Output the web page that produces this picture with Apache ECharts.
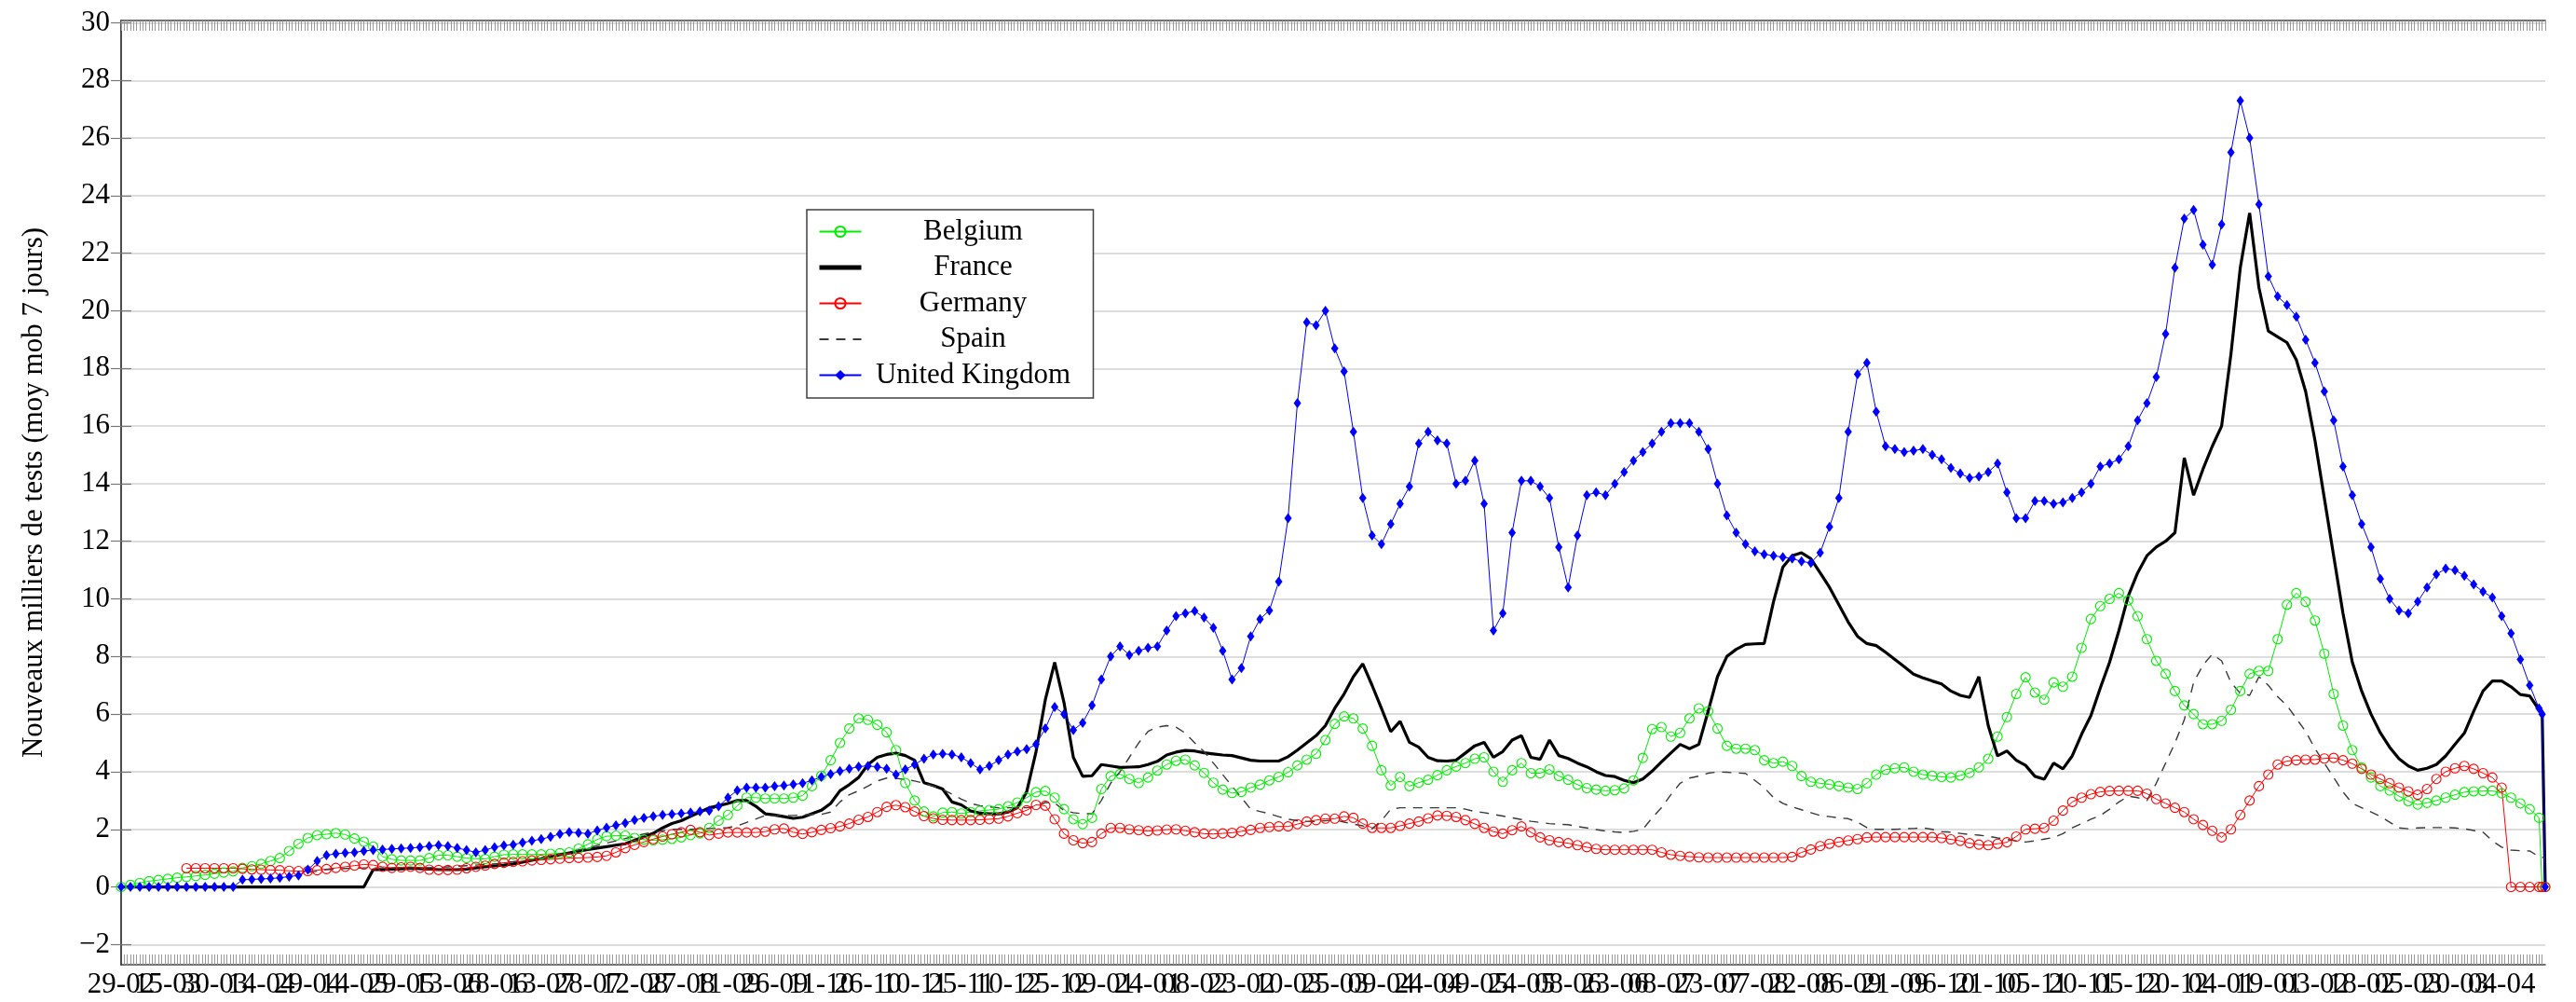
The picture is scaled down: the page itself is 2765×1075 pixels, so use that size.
<!DOCTYPE html>
<html>
<head>
<meta charset="utf-8">
<title>Nouveaux milliers de tests</title>
<script src="https://cdn.jsdelivr.net/npm/echarts@6/dist/echarts.min.js"></script>
<style>
  html, body { margin: 0; padding: 0; background: #fff; }
  #chart { width: 2765px; height: 1075px; }
</style>
</head>
<body>
<div id="chart"></div>
<script>
// tick labels, one every 15 days starting on 29-02-2020
const dateLabels = ['29-02','15-03','30-03','14-04','29-04','14-05','29-05','13-06','28-06','13-07','28-07','12-08',
  '27-08','11-09','26-09','11-10','26-10','10-11','25-11','10-12','25-12','09-01','24-01','08-02','23-02','10-03',
  '25-03','09-04','24-04','09-05','24-05','08-06','23-06','08-07','23-07','07-08','22-08','06-09','21-09','06-10',
  '21-10','05-11','20-11','05-12','20-12','04-01','19-01','03-02','18-02','05-03','20-03','04-04']
const yTicks = [-2, 0, 2, 4, 6, 8, 10, 12, 14, 16, 18, 20, 22, 24, 26, 28, 30]
const lastDay = 779

// day index of every sample (every 3rd day, plus the last two days)
const days = []
for (let d = 0; d <= 777; d += 3) days.push(d)
days.push(778, 779)

const belgium = [
  0,0.07,0.14,0.2,0.24, 0.28,0.32,0.35,0.38,0.42, 0.46,0.5,0.54,0.66,0.72, 0.8,0.9,1.0,1.25,1.5,
  1.7,1.8,1.83,1.87,1.82, 1.68,1.57,1.4,1.05,0.96, 0.92,0.92,0.92,1.0,1.1, 1.1,1.05,1.0,0.98,0.97,
  1.05,1.12,1.13,1.13,1.13, 1.13,1.15,1.17,1.2,1.33, 1.48,1.65,1.76,1.78,1.78, 1.7,1.64,1.62,1.64,1.67,
  1.72,1.8,1.86,2.05,2.3, 2.5,2.82,3.1,3.1,3.07, 3.07,3.07,3.1,3.17,3.5, 3.86,4.4,5.0,5.5,5.85,
  5.8,5.63,5.37,4.75,3.61, 3.0,2.62,2.45,2.58,2.6, 2.55,2.6,2.64,2.67,2.7, 2.8,2.93,3.1,3.29,3.33,
  3.1,2.7,2.35,2.18,2.4, 3.4,3.85,3.92,3.75,3.61, 3.8,4.04,4.25,4.38,4.42, 4.22,3.96,3.62,3.38,3.26,
  3.3,3.45,3.55,3.7,3.82, 3.98,4.22,4.42,4.62,5.1, 5.66,5.92,5.85,5.5,4.9, 4.05,3.52,3.82,3.5,3.62,
  3.72,3.88,4.05,4.18,4.3, 4.45,4.5,4.0,3.65,4.05, 4.3,3.95,3.95,4.08,3.85, 3.72,3.55,3.43,3.38,3.34,
  3.36,3.42,3.7,4.48,5.48, 5.55,5.22,5.35,5.85,6.2, 6.1,5.5,4.9,4.8,4.8, 4.75,4.4,4.3,4.35,4.2,
  3.85,3.65,3.6,3.56,3.5, 3.45,3.4,3.6,3.9,4.07, 4.12,4.15,4.0,3.9,3.86, 3.82,3.8,3.87,3.96,4.15,
  4.45,5.22,5.9,6.7,7.28, 6.75,6.5,7.1,6.95,7.3, 8.3,9.3,9.75,10.0,10.2, 9.95,9.4,8.6,7.85,7.4,
  6.8,6.3,6.0,5.65,5.65, 5.77,6.15,6.8,7.4,7.5, 7.5,8.6,9.8,10.2,9.9, 9.25,8.1,6.7,5.6,4.75,
  4.15,3.8,3.5,3.35,3.15, 2.98,2.86,2.92,3.0,3.1, 3.2,3.29,3.32,3.33,3.34, 3.25,3.1,2.9,2.7,2.4,
  0, 0
]

const france = [
  0,0,0,0,0, 0,0,0,0,0, 0,0,0,0,0, 0,0,0,0,0,
  0,0,0,0,0, 0,0,0.6,0.6,0.62, 0.63,0.65,0.64,0.62,0.6, 0.6,0.6,0.62,0.66,0.7,
  0.73,0.76,0.8,0.86,0.93, 0.98,1.05,1.12,1.18,1.24, 1.3,1.35,1.4,1.45,1.5, 1.62,1.74,1.86,2.05,2.2,
  2.3,2.45,2.6,2.75,2.82, 2.9,3.0,3.0,2.8,2.54, 2.5,2.44,2.38,2.42,2.54, 2.66,2.9,3.34,3.55,3.8,
  4.25,4.5,4.6,4.64,4.56, 4.4,3.62,3.52,3.4,2.95, 2.85,2.64,2.56,2.54,2.54, 2.6,2.75,3.3,4.69,6.5,
  7.8,6.4,4.5,3.84,3.86, 4.25,4.2,4.15,4.16,4.17, 4.25,4.36,4.58,4.68,4.74, 4.72,4.66,4.62,4.58,4.56,
  4.48,4.4,4.37,4.37,4.37, 4.52,4.75,5.0,5.25,5.6, 6.2,6.7,7.3,7.75,7.0, 6.2,5.39,5.75,5.02,4.85,
  4.5,4.38,4.37,4.4,4.65, 4.9,5.02,4.5,4.7,5.1, 5.25,4.5,4.43,5.1,4.56, 4.46,4.3,4.17,4.0,3.87,
  3.83,3.7,3.62,3.75,4.02, 4.34,4.65,4.95,4.8,4.95, 6.1,7.3,8.0,8.25,8.42, 8.44,8.45,9.9,11.1,11.5,
  11.6,11.4,10.9,10.4,9.8, 9.2,8.7,8.45,8.38,8.15, 7.9,7.65,7.39,7.26,7.15, 7.05,6.8,6.65,6.58,7.3,
  5.6,4.55,4.72,4.4,4.22, 3.84,3.74,4.3,4.1,4.55, 5.3,5.95,6.9,7.8,8.9, 10.1,10.9,11.5,11.8,12.0,
  12.3,14.9,13.6,14.5,15.3, 16.0,18.5,21.5,23.4,20.8, 19.3,19.1,18.9,18.3,17.2, 15.5,13.5,11.5,9.5,7.8,
  6.8,6.0,5.35,4.85,4.45, 4.2,4.05,4.12,4.25,4.55, 4.95,5.34,6.1,6.8,7.15, 7.15,6.95,6.68,6.63,6.15,
  6.1, 0
]

const germany = [
  null,null,null,null,null, null,null,0.65,0.65,0.65, 0.65,0.65,0.65,0.63,0.61, 0.6,0.59,0.58,0.56,0.55,
  0.55,0.58,0.62,0.66,0.7, 0.74,0.78,0.76,0.7,0.66, 0.68,0.7,0.66,0.6,0.59, 0.59,0.6,0.65,0.7,0.74,
  0.8,0.84,0.87,0.89,0.92, 0.94,0.96,0.98,1.0,1.01, 1.02,1.04,1.08,1.2,1.35, 1.46,1.56,1.66,1.75,1.83,
  1.9,1.98,1.9,1.8,1.85, 1.89,1.89,1.89,1.89,1.92, 2.0,2.03,1.9,1.84,1.9, 1.98,2.04,2.1,2.2,2.33,
  2.43,2.6,2.78,2.84,2.77, 2.62,2.46,2.38,2.33,2.32, 2.32,2.32,2.33,2.35,2.37, 2.45,2.56,2.66,2.85,2.82,
  2.35,1.85,1.62,1.52,1.56, 1.85,2.05,2.05,2.0,1.97, 1.94,1.96,1.99,2.0,1.95, 1.9,1.85,1.84,1.86,1.88,
  1.93,1.98,2.05,2.08,2.1, 2.1,2.18,2.27,2.32,2.37, 2.37,2.45,2.4,2.2,2.05, 2.05,2.05,2.12,2.2,2.27,
  2.38,2.48,2.47,2.43,2.32, 2.19,2.05,1.92,1.85,1.97, 2.1,1.9,1.72,1.62,1.56, 1.52,1.45,1.38,1.32,1.29,
  1.29,1.29,1.29,1.29,1.29, 1.2,1.12,1.08,1.05,1.03, 1.02,1.02,1.02,1.02,1.02, 1.02,1.02,1.02,1.02,1.04,
  1.2,1.3,1.42,1.5,1.56, 1.61,1.66,1.72,1.73,1.73, 1.73,1.73,1.73,1.73,1.73, 1.7,1.65,1.6,1.52,1.47,
  1.45,1.5,1.55,1.75,2.0, 2.02,2.05,2.3,2.65,2.95, 3.1,3.22,3.3,3.33,3.34, 3.34,3.34,3.24,3.05,2.9,
  2.75,2.6,2.35,2.15,1.95, 1.72,2.0,2.5,3.0,3.5, 3.9,4.25,4.37,4.4,4.42, 4.42,4.46,4.48,4.4,4.28,
  4.1,3.9,3.75,3.6,3.45, 3.32,3.2,3.4,3.75,4.0, 4.12,4.2,4.1,3.95,3.8, 3.45,0,0,0,0,
  0, 0
]

const spain = [
  null,null,null,null,null, null,null,null,null,null, null,null,null,null,null, null,null,null,null,null,
  0.5,0.55,0.6,0.62,0.64, 0.65,0.66,0.66,0.66,0.66, 0.66,0.66,0.66,0.67,0.68, 0.7,0.72,0.74,0.76,0.78,
  0.8,0.84,0.88,0.92,0.96, 1.0,1.06,1.12,1.2,1.28, 1.36,1.44,1.52,1.6,1.68, 1.76,1.84,1.9,1.95,2.0,
  2.0,2.0,2.02,2.03,2.04, 2.06,2.12,2.24,2.36,2.48, 2.48,2.48,2.48,2.5,2.52, 2.52,2.6,2.95,3.2,3.34,
  3.5,3.68,3.78,3.77,3.73, 3.68,3.6,3.5,3.38,3.22, 3.05,2.9,2.82,2.78,2.75, 2.75,2.75,2.75,2.8,2.93,
  2.92,2.65,2.58,2.54,2.54, 3.0,3.6,4.0,4.5,5.0, 5.4,5.55,5.6,5.55,5.34, 5.0,4.7,4.3,3.9,3.5,
  3.1,2.7,2.62,2.54,2.44, 2.35,2.3,2.28,2.27,2.3, 2.33,2.25,2.18,2.12,2.02, 2.3,2.7,2.75,2.75,2.75,
  2.75,2.75,2.75,2.75,2.7, 2.62,2.58,2.52,2.46,2.4, 2.34,2.28,2.24,2.2,2.18, 2.16,2.1,2.05,1.99,1.94,
  1.91,1.89,1.93,2.0,2.4, 2.75,3.2,3.6,3.78,3.85, 3.95,3.99,3.98,3.96,3.94, 3.7,3.45,3.1,2.9,2.78,
  2.68,2.58,2.48,2.44,2.4, 2.37,2.25,2.06,2.0,2.0, 2.0,2.02,2.03,2.05,2.0, 1.92,1.9,1.86,1.82,1.8,
  1.76,1.7,1.65,1.6,1.56, 1.6,1.66,1.72,1.85,2.05, 2.2,2.35,2.48,2.7,2.95, 3.15,3.1,3.0,3.6,4.3,
  5.0,5.8,7.1,7.7,8.08, 7.85,7.1,6.72,6.65,7.3, 7.0,6.6,6.3,5.85,5.4, 4.8,4.3,3.8,3.3,2.9,
  2.75,2.6,2.45,2.25,2.05, 2.02,2.05,2.06,2.06,2.06, 2.05,2.02,1.96,1.9,1.6, 1.38,1.28,1.26,1.25,1.05,
  1.03, 1.0
]

const uk = [
  0,0,0,0,0, 0,0,0,0,0, 0,0,0,0.25,0.26, 0.28,0.29,0.32,0.36,0.4,
  0.6,0.9,1.1,1.15,1.18, 1.2,1.25,1.28,1.3,1.32, 1.34,1.35,1.38,1.42,1.45, 1.42,1.35,1.28,1.2,1.28,
  1.38,1.44,1.47,1.54,1.6, 1.66,1.74,1.84,1.9,1.88, 1.85,1.96,2.06,2.14,2.22, 2.32,2.4,2.45,2.5,2.53,
  2.55,2.58,2.62,2.65,2.8, 3.1,3.35,3.45,3.45,3.45, 3.5,3.52,3.56,3.6,3.7, 3.82,3.92,4.02,4.1,4.18,
  4.2,4.17,4.1,3.9,4.08, 4.25,4.45,4.6,4.62,4.6, 4.5,4.3,4.08,4.2,4.4, 4.6,4.7,4.78,4.95,5.5,
  6.25,6.0,5.45,5.7,6.3, 7.2,8.0,8.35,8.05,8.2, 8.3,8.35,8.9,9.4,9.5, 9.58,9.35,9.0,8.2,7.2,
  7.6,8.7,9.3,9.6,10.6, 12.8,16.8,19.6,19.5,20.0, 18.7,17.9,15.8,13.5,12.2, 11.9,12.6,13.3,13.9,15.4,
  15.8,15.5,15.4,14.0,14.1, 14.8,13.3,8.9,9.5,12.3, 14.1,14.1,13.9,13.5,11.8, 10.4,12.2,13.6,13.7,13.6,
  14.0,14.4,14.8,15.1,15.4, 15.8,16.1,16.1,16.1,15.8, 15.2,14.0,12.9,12.3,11.9, 11.65,11.55,11.5,11.45,11.4,
  11.3,11.25,11.6,12.5,13.5, 15.8,17.8,18.2,16.5,15.3, 15.2,15.1,15.15,15.2,15.0, 14.85,14.55,14.35,14.2,14.25,
  14.4,14.7,13.7,12.8,12.8, 13.4,13.4,13.3,13.35,13.5, 13.7,14.0,14.6,14.7,14.85, 15.3,16.2,16.8,17.7,19.2,
  21.5,23.2,23.5,22.3,21.6, 23.0,25.5,27.3,26.0,23.7, 21.2,20.5,20.2,19.8,19.0, 18.2,17.2,16.2,14.6,13.6,
  12.6,11.8,10.7,10.0,9.6, 9.5,9.9,10.4,10.85,11.05, 11.0,10.8,10.5,10.25,10.05, 9.4,8.8,7.9,7.0,6.2,
  6.0, 0
]

const chart = echarts.init(document.getElementById('chart'))

const font = '"Liberation Serif", "DejaVu Serif", serif'
const frameColor = '#404040'
const allDays = []
for (let d = 0; d <= lastDay; d++) allDays.push(d)
// blank guard labels at both ends of the axis, so the real first and last dates stay visible
const labelDays = [0].concat(dateLabels.map((_, k) => (k === 0 ? 0.001 : k * 15)), [lastDay])

const pairs = (values) => days.map((d, i) => [d, values[i]])

const frameAxis = {
  axisLine: { show: true, onZero: false, lineStyle: { color: frameColor, width: 1.5 } },
  splitLine: { show: false }
}

const option = {
  animation: false,
  backgroundColor: '#fff',
  textStyle: { fontFamily: font },
  grid: { left: 130, right: 33, top: 22, bottom: 40 },
  xAxis: [
    {
      type: 'value', min: 0, max: lastDay, position: 'bottom',
      ...frameAxis,
      axisTick: { inside: true, length: 11, customValues: allDays, lineStyle: { color: '#9a9a9a', width: 1 } },
      axisLabel: {
        customValues: labelDays,
        showMinLabel: false, showMaxLabel: false,
        formatter: (v) => (v === 0 || v === lastDay ? ' ' : dateLabels[Math.round(v / 15)]),
        fontSize: 31, fontFamily: font, color: '#000', margin: 6
      }
    },
    {
      type: 'value', min: 0, max: lastDay, position: 'top',
      ...frameAxis,
      axisTick: { inside: true, length: 11, customValues: allDays, lineStyle: { color: '#9a9a9a', width: 1 } },
      axisLabel: { show: false }
    }
  ],
  yAxis: [
    {
      type: 'value', min: -2.7, max: 30.08, position: 'left',
      name: 'Nouveaux milliers de tests (moy mob 7 jours)',
      nameLocation: 'middle', nameGap: 78,
      nameTextStyle: { fontSize: 31, fontFamily: font, color: '#000' },
      axisLine: { show: true, lineStyle: { color: frameColor, width: 1.5 } },
      axisTick: { inside: true, length: 11, customValues: yTicks, lineStyle: { color: '#777', width: 1.2 } },
      axisLabel: {
        customValues: yTicks,
        formatter: (v) => (v < 0 ? '\u2212' + (-v) : String(v)),
        fontSize: 31, fontFamily: font, color: '#000', margin: 12
      },
      splitLine: { show: true, lineStyle: { color: '#d2d2d2', width: 1.5 } }
    },
    {
      type: 'value', min: -2.7, max: 30.08, position: 'right',
      axisLine: { show: true, lineStyle: { color: frameColor, width: 1.5 } },
      axisTick: { inside: true, length: 11, customValues: yTicks, lineStyle: { color: '#777', width: 1.2 } },
      axisLabel: { show: false },
      splitLine: { show: false }
    }
  ],
  legend: {
    orient: 'vertical',
    left: 866, top: 225,
    padding: [8, 14, 9, 11],
    itemGap: 7.5, itemWidth: 45, itemHeight: 14,
    backgroundColor: '#fff',
    borderColor: frameColor, borderWidth: 1.5, borderRadius: 0,
    formatter: '{c|{name}}',
    textStyle: {
      fontSize: 31, fontFamily: font, color: '#000',
      rich: { c: { width: 230, align: 'center', fontSize: 31, fontFamily: font, lineHeight: 30 } }
    },
    data: [
      'Belgium',
      { name: 'France', itemStyle: { opacity: 0 }, lineStyle: { width: 5 } },
      'Germany',
      { name: 'Spain', itemStyle: { opacity: 0 } },
      'United Kingdom'
    ]
  },
  series: [
    {
      name: 'Belgium', type: 'line', data: pairs(belgium),
      color: '#00ee00',
      symbol: 'circle', symbolSize: 10, showAllSymbol: true,
      itemStyle: { color: 'rgba(0,0,0,0)', borderColor: '#00ee00', borderWidth: 1.1 },
      lineStyle: { color: '#00ee00', width: 1 }
    },
    {
      name: 'France', type: 'line', data: pairs(france),
      color: '#000',
      symbol: 'none',
      lineStyle: { color: '#000', width: 3.2 }
    },
    {
      name: 'Germany', type: 'line', data: pairs(germany),
      color: '#ff0000',
      symbol: 'circle', symbolSize: 10, showAllSymbol: true,
      itemStyle: { color: 'rgba(0,0,0,0)', borderColor: '#ff0000', borderWidth: 1.1 },
      lineStyle: { color: '#ff0000', width: 1 }
    },
    {
      name: 'Spain', type: 'line', data: pairs(spain),
      color: '#3a3a3a',
      symbol: 'none',
      lineStyle: { color: '#3a3a3a', width: 1.4, type: [10, 8] }
    },
    {
      name: 'United Kingdom', type: 'line', data: pairs(uk),
      color: '#0000ff',
      symbol: 'diamond', symbolSize: [8, 11], showAllSymbol: true,
      itemStyle: { color: '#0000ff' },
      lineStyle: { color: '#0000ff', width: 1 }
    }
  ]
}

chart.setOption(option)
</script>
</body>
</html>
